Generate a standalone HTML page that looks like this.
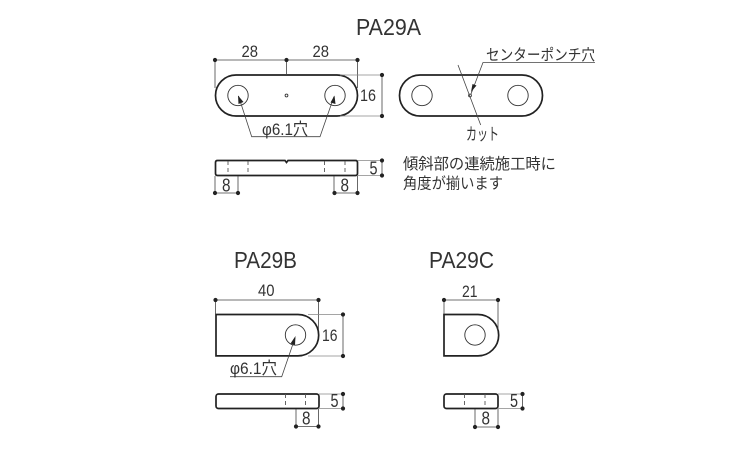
<!DOCTYPE html>
<html><head><meta charset="utf-8">
<style>
html,body{margin:0;padding:0;background:#fff;width:750px;height:450px;overflow:hidden}
svg{display:block}
text{font-family:"Liberation Sans","Noto Sans CJK JP",sans-serif;fill:#333}
.o{fill:none;stroke:#222;stroke-width:1.7}
.h{fill:none;stroke:#333;stroke-width:.9}
.d{fill:none;stroke:#444;stroke-width:.8}
.e{fill:none;stroke:#888;stroke-width:.8}
.s{fill:none;stroke:#555;stroke-width:.9;stroke-dasharray:4 3}
.p{fill:#222}
.p circle{r:2.1px}
.n{font-size:17px}
.m{font-size:18px}
.t{font-size:23px}
.j{font-size:15.3px}
.k{font-size:17px}
</style></head><body>
<svg width="750" height="450" viewBox="0 0 750 450" xmlns="http://www.w3.org/2000/svg">
<text class="t" x="356" y="35" textLength="65" lengthAdjust="spacingAndGlyphs">PA29A</text>
<text class="t" x="234" y="268" textLength="63" lengthAdjust="spacingAndGlyphs">PA29B</text>
<text class="t" x="429" y="268" textLength="65" lengthAdjust="spacingAndGlyphs">PA29C</text>

<!-- PA29A front -->
<rect class="o" x="215.5" y="75" width="142" height="41" rx="20.5" ry="20.5"/>
<circle class="h" cx="238" cy="95.5" r="10.2"/>
<circle class="h" cx="335" cy="95.5" r="10.2"/>
<circle class="h" cx="286.5" cy="95.5" r="1.4"/>
<path class="d" d="M215 60H357.500M215 60V88M286.500 60V75M357.500 60V88M382 75V116"/>
<path class="e" d="M340 75H382M340 116H382"/>
<g class="p"><circle cx="215" cy="60" r="1.8"/><circle cx="286.500" cy="60" r="1.800"/><circle cx="357.500" cy="60" r="1.800"/><circle cx="382" cy="75" r="1.800"/><circle cx="382" cy="116" r="1.800"/></g>
<text class="n" x="241.500" y="57" textLength="16.500" lengthAdjust="spacingAndGlyphs">28</text>
<text class="n" x="312.500" y="57" textLength="16.500" lengthAdjust="spacingAndGlyphs">28</text>
<text class="n" x="360" y="101" textLength="16" lengthAdjust="spacingAndGlyphs">16</text>
<path class="d" d="M238.500 96L251.700 136.700H320L334 96.500"/>
<path class="p" d="M238 95.500L243.500 102L238.500 104ZM334.500 95.500L335.500 104L330.500 102.500Z"/>
<text class="n" x="262" y="135" textLength="46" lengthAdjust="spacingAndGlyphs">φ6.1穴</text>

<!-- PA29A right -->
<rect class="o" x="399.500" y="75" width="143" height="41" rx="20.500" ry="20.500"/>
<circle class="h" cx="422" cy="95.500" r="10.200"/>
<circle class="h" cx="518" cy="95.500" r="10.200"/>
<circle class="h" cx="470" cy="95.500" r="1.400"/>
<path class="d" d="M458 65L480.700 125M471 94L483 62.500H595"/>
<path class="p" d="M471 92L472.500 84L476.500 85.500Z"/>
<text class="j" x="486" y="60" textLength="109" lengthAdjust="spacingAndGlyphs">センターポンチ穴</text>
<text class="k" x="466" y="140" textLength="33" lengthAdjust="spacingAndGlyphs">カット</text>

<!-- PA29A side -->
<path class="o" d="M217.500 160.500H285L286.500 162.500L288 160.500H355.500Q357.500 160.500 357.500 162.500V173.500Q357.500 175.500 355.500 175.500H217.500Q215.500 175.500 215.500 173.500V162.500Q215.500 160.500 217.500 160.500Z"/>
<path class="s" d="M228 161V175M248 161V175M324.500 161V175M345 161V175"/>
<path class="d" d="M215 176V193H238V176M334 176V193H357.500V176M382 160.500V175.500"/>
<path class="e" d="M358 160.500H382M358 175.500H382"/>
<g class="p"><circle cx="215" cy="193" r="1.800"/><circle cx="238" cy="193" r="1.800"/><circle cx="334.500" cy="193" r="1.800"/><circle cx="357.500" cy="193" r="1.800"/><circle cx="382" cy="160.500" r="1.800"/><circle cx="382" cy="175.500" r="1.800"/></g>
<text class="m" x="222" y="191.500" textLength="8.500" lengthAdjust="spacingAndGlyphs">8</text>
<text class="m" x="340.500" y="191.500" textLength="8.500" lengthAdjust="spacingAndGlyphs">8</text>
<text class="m" x="369.500" y="174.500" textLength="8" lengthAdjust="spacingAndGlyphs">5</text>
<text class="j" x="403" y="169" textLength="153" lengthAdjust="spacingAndGlyphs">傾斜部の連続施工時に</text>
<text class="j" x="403" y="188.500" textLength="100" lengthAdjust="spacingAndGlyphs">角度が揃います</text>

<!-- PA29B -->
<path class="o" d="M216 314.500H298A20.700 20.700 0 0 1 298 355.900H216Z"/>
<circle class="h" cx="295.500" cy="335" r="10.200"/>
<path class="d" d="M215.500 300H318.500M215.500 300V314M318.500 300V330M343 314.500V356"/>
<path class="e" d="M308 314.500H343M308 356H343"/>
<g class="p"><circle cx="215.500" cy="300" r="1.800"/><circle cx="318.500" cy="300" r="1.800"/><circle cx="343" cy="314.500" r="1.800"/><circle cx="343" cy="356" r="1.800"/></g>
<text class="n" x="258" y="296" textLength="16.500" lengthAdjust="spacingAndGlyphs">40</text>
<text class="n" x="322" y="341" textLength="15.500" lengthAdjust="spacingAndGlyphs">16</text>
<path class="d" d="M295 338L281.700 376.700H230"/>
<path class="p" d="M295.500 336L295 345L290.500 343.500Z"/>
<text class="n" x="230" y="374" textLength="47" lengthAdjust="spacingAndGlyphs">φ6.1穴</text>

<rect class="o" x="216" y="394" width="103" height="14.500" rx="2.500"/>
<path class="s" d="M285.500 394V408M305.500 394V408"/>
<path class="d" d="M296 409V426.500H318.500V409M343 394V408.500"/>
<path class="e" d="M319 394H343M319 408.500H343"/>
<g class="p"><circle cx="296" cy="426.500" r="1.800"/><circle cx="318.500" cy="426.500" r="1.800"/><circle cx="343" cy="394" r="1.800"/><circle cx="343" cy="408.500" r="1.800"/></g>
<text class="m" x="302" y="424.500" textLength="8.500" lengthAdjust="spacingAndGlyphs">8</text>
<text class="m" x="330.500" y="407" textLength="8" lengthAdjust="spacingAndGlyphs">5</text>

<!-- PA29C -->
<path class="o" d="M444 314.500H478A20.700 20.700 0 0 1 478 355.900H444Z"/>
<circle class="h" cx="475" cy="335" r="10.200"/>
<path class="d" d="M444 300H498M444 300V314M498 300V330"/>
<g class="p"><circle cx="444" cy="300" r="1.800"/><circle cx="498" cy="300" r="1.800"/></g>
<text class="n" x="462" y="297" textLength="15.500" lengthAdjust="spacingAndGlyphs">21</text>

<rect class="o" x="444" y="394" width="54" height="14.500" rx="2.500"/>
<path class="s" d="M464.500 394V408M485 394V408"/>
<path class="d" d="M475 409V427H498V409M522.500 394V408.500"/>
<path class="e" d="M498 394H522.500M498 408.500H522.500"/>
<g class="p"><circle cx="475" cy="427" r="1.800"/><circle cx="498" cy="427" r="1.800"/><circle cx="522.500" cy="394" r="1.800"/><circle cx="522.500" cy="408.500" r="1.800"/></g>
<text class="m" x="481.500" y="424.500" textLength="8.500" lengthAdjust="spacingAndGlyphs">8</text>
<text class="m" x="510" y="407" textLength="8" lengthAdjust="spacingAndGlyphs">5</text>
</svg>
</body></html>
